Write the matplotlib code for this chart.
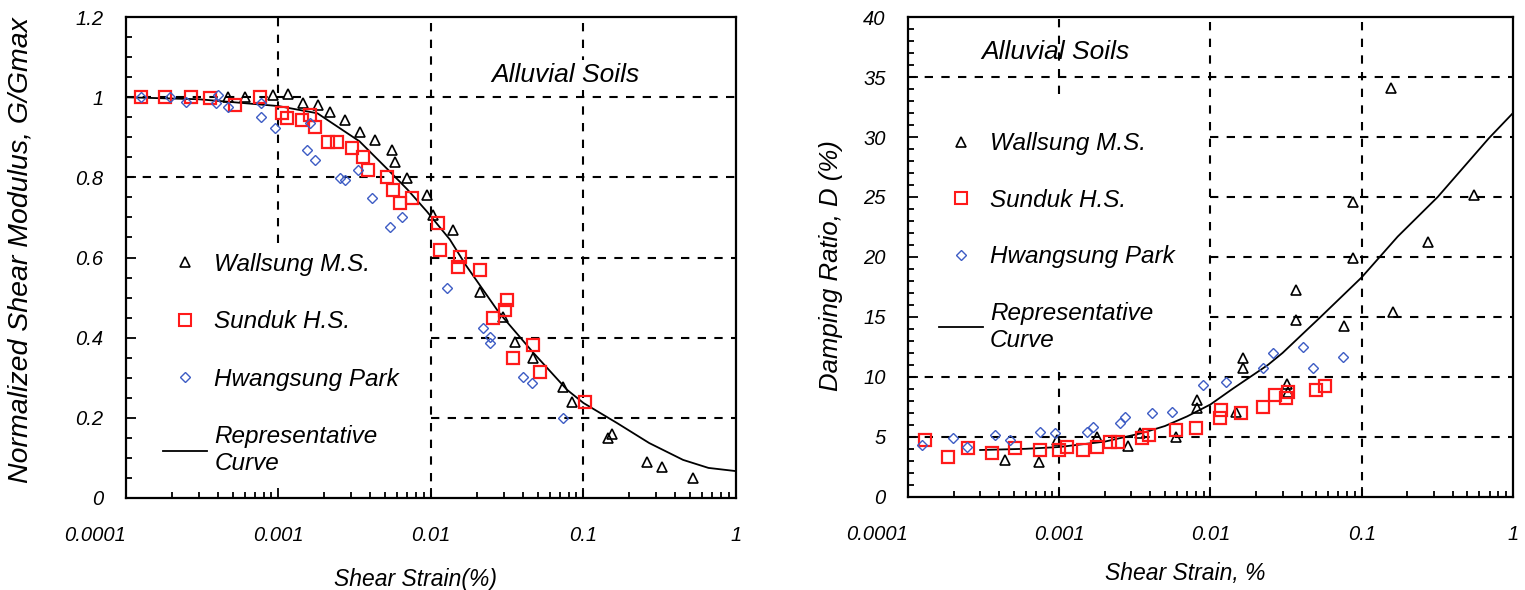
import matplotlib
matplotlib.use("Agg")
import matplotlib.pyplot as plt
from matplotlib.ticker import FixedLocator, LogLocator, MultipleLocator, NullFormatter
from matplotlib.lines import Line2D

plt.rcParams["font.family"] = ["Liberation Sans", "DejaVu Sans"]
plt.rcParams["font.style"] = "italic"

# ---- Modulus reduction (left panel) ----
g_wallsung_x = [4.7e-4, 6.0e-4, 9.2e-4, 1.15e-3, 1.45e-3, 1.82e-3, 2.18e-3, 2.73e-3, 3.42e-3,
                4.29e-3, 5.55e-3, 5.8e-3, 6.96e-3, 9.4e-3, 1.03e-2, 1.39e-2, 2.1e-2, 2.96e-2,
                3.56e-2, 4.67e-2, 7.34e-2, 8.4e-2, 0.145, 0.155, 0.26, 0.327, 0.52]
g_wallsung_y = [1.0, 1.0, 1.006, 1.009, 0.986, 0.98, 0.964, 0.944, 0.914,
                0.894, 0.869, 0.839, 0.799, 0.757, 0.707, 0.669, 0.514, 0.452,
                0.39, 0.35, 0.277, 0.24, 0.15, 0.16, 0.09, 0.077, 0.05]

g_sunduk_x = [1.25e-4, 1.8e-4, 2.67e-4, 3.56e-4, 5.19e-4, 7.56e-4, 1.05e-3, 1.14e-3, 1.43e-3,
              1.61e-3, 1.73e-3, 2.11e-3, 2.42e-3, 3.03e-3, 3.58e-3, 3.86e-3, 5.15e-3, 5.63e-3,
              6.26e-3, 7.5e-3, 1.11e-2, 1.15e-2, 1.55e-2, 1.5e-2, 2.1e-2, 3.15e-2, 3.05e-2,
              2.55e-2, 4.67e-2, 3.45e-2, 5.19e-2, 0.102]
g_sunduk_y = [1.0, 1.0, 1.0, 0.999, 0.98, 1.0, 0.961, 0.949, 0.944,
              0.956, 0.926, 0.889, 0.889, 0.874, 0.851, 0.819, 0.801, 0.769,
              0.737, 0.749, 0.687, 0.619, 0.602, 0.577, 0.569, 0.494, 0.469,
              0.449, 0.382, 0.35, 0.315, 0.24]

g_hwangsung_x = [1.25e-4, 1.94e-4, 2.47e-4, 4.01e-4, 3.89e-4, 4.67e-4, 7.7e-4, 7.7e-4, 9.5e-4,
                 1.61e-3, 1.54e-3, 1.73e-3, 2.53e-3, 2.73e-3, 3.32e-3, 4.1e-3, 5.39e-3, 6.45e-3,
                 1.27e-2, 2.19e-2, 2.44e-2, 2.44e-2, 4.01e-2, 4.59e-2, 7.34e-2]
g_hwangsung_y = [1.0, 1.0, 0.989, 1.006, 0.986, 0.976, 0.985, 0.95, 0.924,
                 0.936, 0.869, 0.844, 0.799, 0.794, 0.819, 0.749, 0.677, 0.702,
                 0.524, 0.424, 0.402, 0.387, 0.302, 0.287, 0.2]

g_curve_x = [1e-4, 3e-4, 1e-3, 1.8e-3, 3.4e-3, 5.2e-3, 7e-3, 9.4e-3, 1.33e-2, 1.7e-2,
             2.8e-2, 4.7e-2, 7.8e-2, 0.1, 0.166, 0.27, 0.45, 0.66, 1.0]
g_curve_y = [1.0, 0.995, 0.978, 0.96, 0.89, 0.82, 0.77, 0.715, 0.645, 0.58,
             0.462, 0.362, 0.27, 0.237, 0.187, 0.137, 0.095, 0.075, 0.067]

# ---- Damping ratio (right panel) ----
d_wallsung_x = [4.4e-4, 7.3e-4, 9.7e-4, 1.79e-3, 2.86e-3, 3.4e-3, 5.9e-3, 8.2e-3, 8.2e-3,
                1.47e-2, 1.63e-2, 1.63e-2, 3.19e-2, 3.24e-2, 3.66e-2, 3.66e-2, 7.6e-2,
                8.71e-2, 8.71e-2, 0.156, 0.16, 0.273, 0.552]
d_wallsung_y = [3.1, 2.9, 4.75, 5.0, 4.2, 5.3, 5.0, 8.1, 7.4,
                7.1, 11.6, 10.75, 9.4, 8.7, 17.25, 14.75, 14.2,
                24.6, 19.9, 34.1, 15.4, 21.25, 25.2]

d_sunduk_x = [1.3e-4, 1.84e-4, 2.5e-4, 3.6e-4, 5.1e-4, 7.5e-4, 1.0e-3, 1.13e-3, 1.44e-3,
              1.79e-3, 2.18e-3, 2.46e-3, 3.55e-3, 3.9e-3, 5.9e-3, 8.0e-3, 1.16e-2, 1.18e-2,
              1.58e-2, 2.21e-2, 2.68e-2, 3.15e-2, 3.25e-2, 4.95e-2, 5.7e-2]
d_sunduk_y = [4.75, 3.33, 4.08, 3.67, 4.08, 3.92, 3.92, 4.17, 3.92,
              4.17, 4.6, 4.6, 4.9, 5.17, 5.6, 5.75, 6.6, 7.2,
              7.0, 7.5, 8.5, 8.25, 8.7, 8.9, 9.2]

d_hwangsung_x = [1.24e-4, 1.99e-4, 2.46e-4, 3.77e-4, 4.7e-4, 7.5e-4, 9.4e-4, 1.53e-3, 1.68e-3,
                 2.54e-3, 2.74e-3, 4.1e-3, 5.6e-3, 8.9e-3, 1.26e-2, 2.24e-2, 2.58e-2,
                 4.06e-2, 4.73e-2, 7.48e-2]
d_hwangsung_y = [4.33, 4.9, 4.17, 5.17, 4.75, 5.4, 5.33, 5.4, 5.8,
                 6.17, 6.67, 7.0, 7.1, 9.33, 9.6, 10.75, 12.0,
                 12.5, 10.75, 11.67]

d_curve_x = [3e-4, 6e-4, 1e-3, 2e-3, 3.5e-3, 5e-3, 7e-3, 1e-2, 1.4e-2, 2.4e-2, 3e-2,
             5.35e-2, 0.1, 0.173, 0.318, 0.693, 1.0]
d_curve_y = [3.9, 4.0, 4.15, 4.6, 5.3, 5.9, 6.7, 7.7, 9.0, 11.0, 12.0,
             15.0, 18.3, 21.7, 25.0, 29.9, 32.0]

series_names = ["Wallsung M.S.", "Sunduk H.S.", "Hwangsung Park", "Representative\nCurve"]
strain_ticks = [1e-4, 1e-3, 1e-2, 1e-1, 1]
strain_labels = ["0.0001", "0.001", "0.01", "0.1", "1"]
g_ticks = [0, 0.2, 0.4, 0.6, 0.8, 1.0, 1.2]
g_labels = ["0", "0.2", "0.4", "0.6", "0.8", "1", "1.2"]
d_ticks = [0, 5, 10, 15, 20, 25, 30, 35, 40]

BLUE = "#3d5cc4"
RED = "#ff1a1a"
DASH = dict(color="black", linestyle=(0, (4, 4)), linewidth=1.5, zorder=1)


def style_axis(ax, ylim, yticks, ylabels, yminor):
    ax.set_xscale("log")
    ax.set_xlim(1e-4, 1)
    ax.set_ylim(*ylim)
    ax.xaxis.set_major_locator(FixedLocator(strain_ticks))
    ax.set_xticklabels(strain_labels)
    ax.xaxis.set_minor_locator(LogLocator(base=10, subs=range(2, 10)))
    ax.xaxis.set_minor_formatter(NullFormatter())
    ax.set_yticks(yticks)
    ax.set_yticklabels(ylabels)
    ax.yaxis.set_minor_locator(MultipleLocator(yminor))
    ax.tick_params(which="both", direction="in", top=False, right=False, width=1.3)
    ax.tick_params(which="major", length=7, labelsize=14.5)
    ax.tick_params(which="minor", length=4)
    ax.tick_params(axis="x", pad=20)
    ax.tick_params(axis="y", pad=16)
    ax.get_xticklabels()[0].set_horizontalalignment("right")
    for s in ax.spines.values():
        s.set_linewidth(1.6)


def legend_handles():
    return [
        Line2D([], [], marker="^", ls="none", mfc="none", mec="black", ms=7, mew=1.2),
        Line2D([], [], marker="s", ls="none", mfc="none", mec=RED, ms=8, mew=1.5),
        Line2D([], [], marker="D", ls="none", mfc="none", mec=BLUE, ms=5.5, mew=1.0),
        Line2D([], [], color="black", lw=1.3),
    ]


def scatter_all(ax, wx, wy, sx, sy, hx, hy, cx, cy):
    ax.plot(cx, cy, color="black", lw=1.3, zorder=3)
    ax.plot(wx, wy, "^", mfc="none", mec="black", ms=7, mew=1.2, zorder=4)
    ax.plot(sx, sy, "s", mfc="none", mec=RED, ms=8.5, mew=1.6, zorder=4)
    ax.plot(hx, hy, "D", mfc="none", mec=BLUE, ms=5.5, mew=1.0, zorder=4)


fig = plt.figure(figsize=(15.25, 5.9), dpi=100)
ax1 = fig.add_axes([0.0826, 0.156, 0.400, 0.815])
ax2 = fig.add_axes([0.5954, 0.158, 0.3967, 0.813])

# left panel grid (partly hidden behind legend / label in the original)
ax1.axhline(1.0, **DASH)
ax1.axhline(0.8, **DASH)
for g in (0.6, 0.4, 0.2):
    ax1.axhline(g, xmin=0.5, xmax=1, **DASH)
ax1.axvline(1e-3, ymin=0.53, ymax=1, **DASH)
ax1.axvline(1e-2, **DASH)
ax1.axvline(1e-1, **DASH)

scatter_all(ax1, g_wallsung_x, g_wallsung_y, g_sunduk_x, g_sunduk_y,
            g_hwangsung_x, g_hwangsung_y, g_curve_x, g_curve_y)
style_axis(ax1, (0, 1.2), g_ticks, g_labels, 0.05)
ax1.set_xlabel("Shear Strain(%)", fontsize=16.5, va="top")
ax1.xaxis.set_label_coords(0.475, -0.145)
ax1.set_ylabel("Normalized Shear Modulus, G/Gmax", fontsize=20.5)
ax1.yaxis.set_label_coords(-0.152, 0.516)
ax1.text(0.72, 0.879, "Alluvial Soils", transform=ax1.transAxes, fontsize=19,
         ha="center", va="center", zorder=2,
         bbox=dict(facecolor="white", edgecolor="none", pad=2))
ax1.legend(legend_handles(), series_names, loc="upper left", bbox_to_anchor=(0.045, 0.53),
           frameon=False, fontsize=17.5, labelspacing=1.42, handlelength=1.8,
           handletextpad=0.3, borderaxespad=0)

# right panel grid
ax2.axhline(35, **DASH)
for d in (30, 25, 20, 15):
    ax2.axhline(d, xmin=0.5, xmax=1, **DASH)
ax2.axhline(10, **DASH)
ax2.axhline(5, **DASH)
ax2.axvline(1e-3, ymin=0.0, ymax=0.27, **DASH)
ax2.axvline(1e-3, ymin=0.84, ymax=1, **DASH)
ax2.axvline(1e-2, **DASH)
ax2.axvline(1e-1, **DASH)

scatter_all(ax2, d_wallsung_x, d_wallsung_y, d_sunduk_x, d_sunduk_y,
            d_hwangsung_x, d_hwangsung_y, d_curve_x, d_curve_y)
style_axis(ax2, (0, 40), d_ticks, [str(t) for t in d_ticks], 1)
ax2.set_xlabel("Shear Strain, %", fontsize=16.5, va="top")
ax2.xaxis.set_label_coords(0.458, -0.135)
ax2.set_ylabel("Damping Ratio, D (%)", fontsize=18.5)
ax2.yaxis.set_label_coords(-0.108, 0.483)
ax2.text(0.243, 0.927, "Alluvial Soils", transform=ax2.transAxes, fontsize=19,
         ha="center", va="center")
ax2.legend(legend_handles(), series_names, loc="upper left", bbox_to_anchor=(0.035, 0.78),
           frameon=False, fontsize=17.5, labelspacing=1.38, handlelength=1.8,
           handletextpad=0.3, borderaxespad=0)

fig.savefig("out.png", dpi=100, facecolor="white")
